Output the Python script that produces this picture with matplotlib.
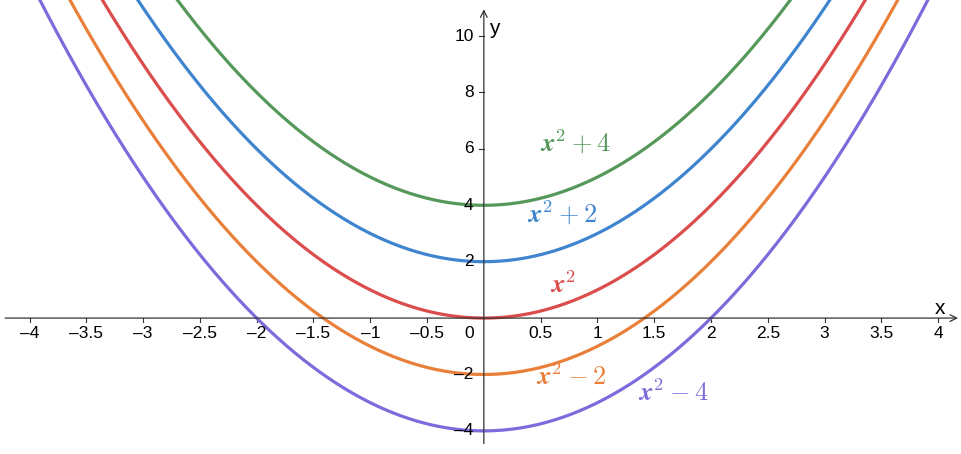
import numpy as np
import matplotlib.pyplot as plt

plt.rcParams['mathtext.fontset'] = 'cm'
plt.rcParams['font.family'] = ['Liberation Sans', 'DejaVu Sans']

# shifts c in y = x^2 + c
shifts = [4, 2, 0, -2, -4]
colors = ['#55985a', '#3f84cf', '#db4c4c', '#e8803a', '#7d6bdc']
labels = [r'$\boldsymbol{x}^{\mathbf{2}} + \mathbf{4}$',
          r'$\boldsymbol{x}^{\mathbf{2}} + \mathbf{2}$',
          r'$\boldsymbol{x}^{\mathbf{2}}$',
          r'$\boldsymbol{x}^{\mathbf{2}} - \mathbf{2}$',
          r'$\boldsymbol{x}^{\mathbf{2}} - \mathbf{4}$']
label_x = [0.81, 0.69, 0.70, 0.77, 1.67]
label_y = [6.24, 3.72, 1.17, -2.09, -2.66]

x_ticks = [-4, -3.5, -3, -2.5, -2, -1.5, -1, -0.5, 0.5, 1, 1.5, 2, 2.5, 3, 3.5, 4]
y_ticks = [-4, -2, 2, 4, 6, 8, 10]

fig = plt.figure(figsize=(9.62, 4.54), dpi=100)
ax = fig.add_axes([0, 0, 1, 1])
ax.set_xlim(-4.26, 4.21)
ax.set_ylim(-4.82, 11.28)

xs = np.linspace(-4.3, 4.3, 600)
for c, col in zip(shifts, colors):
    ax.plot(xs, xs**2 + c, color=col, lw=2.3, solid_capstyle='round', zorder=3)

for lab, lx, ly, col in zip(labels, label_x, label_y, colors):
    ax.text(lx, ly, lab, color=col, fontsize=19, ha='center', va='center')

for s in ax.spines.values():
    s.set_visible(False)
ax.set_xticks([])
ax.set_yticks([])

# axes lines with open arrows
ax.annotate('', xy=(4.2, 0), xytext=(-4.24, 0),
            arrowprops=dict(arrowstyle='->', color='#333333', lw=0.9, mutation_scale=12))
ax.annotate('', xy=(0, 11.05), xytext=(0, -4.55),
            arrowprops=dict(arrowstyle='->', color='#333333', lw=0.9, mutation_scale=12))

for t in x_ticks:
    ax.plot([t, t], [0, -0.15], color='#333333', lw=0.8)
    ax.text(t, -0.55, f'{t:g}'.replace('-', '\u2013'), ha='center', va='center', fontsize=12.5)
for t in y_ticks:
    ax.plot([0, -0.04], [t, t], color='#333333', lw=0.8)
    ax.text(-0.09, t, f'{t:g}'.replace('-', '\u2013'), ha='right', va='center', fontsize=12.5)
ax.text(-0.09, -0.55, '0', ha='right', va='center', fontsize=12.5)

ax.text(4.02, 0.35, 'x', fontsize=15, ha='center', va='center')
ax.text(0.09, 10.28, 'y', fontsize=15, ha='center', va='center')

fig.savefig('out.png', dpi=100)
